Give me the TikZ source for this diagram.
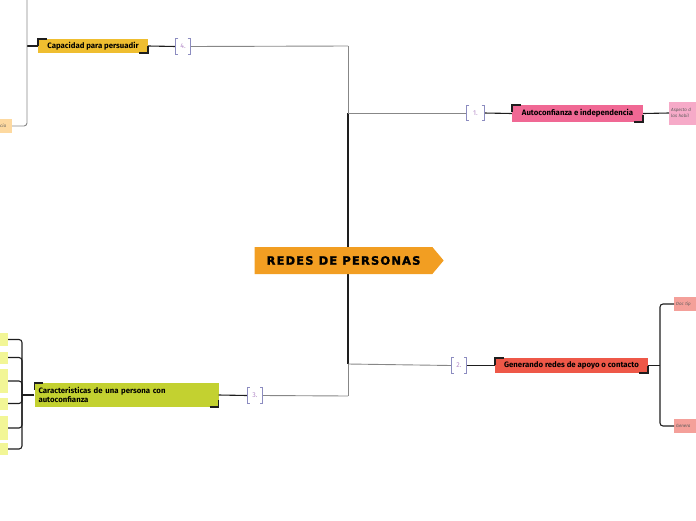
\documentclass[tikz,border=0pt]{standalone}
\usepackage{xcolor}
\usepackage{fontspec}
\setmainfont{Fira Sans}
\newfontfamily\titlefont[LetterSpace=10, FakeBold=1.6]{DejaVu Sans}
\usepackage{tikz}
\usetikzlibrary{shapes.symbols, positioning, calc, backgrounds}
\definecolor{mydark}{RGB}{30,30,30}
\definecolor{mygrey}{RGB}{135,135,135}
\definecolor{rootorange}{RGB}{242,158,34}
\definecolor{persyellow}{RGB}{239,190,48}
\definecolor{autopink}{RGB}{240,104,148}
\definecolor{redesred}{RGB}{238,88,72}
\definecolor{caragreen}{RGB}{195,209,48}
\definecolor{leafpink}{RGB}{246,170,200}
\definecolor{leafsalmon}{RGB}{244,160,154}
\definecolor{leafyellow}{RGB}{242,246,150}
\definecolor{leaforange}{RGB}{253,217,160}
\definecolor{tagbrk}{RGB}{140,140,192}
\definecolor{tagtext}{RGB}{180,140,200}
\definecolor{leaftext}{RGB}{90,90,90}
\tikzset{
  rootsig/.style={signal, signal to=east, signal pointer angle=100,
    fill=rootorange, minimum width=189pt, minimum height=27pt,
    inner sep=0pt, font=\titlefont\fontsize{11.5}{12}\selectfont\bfseries},
  topic/.style={rectangle, inner xsep=4pt, inner ysep=1pt,
    font=\fontsize{7.8}{9}\selectfont\bfseries, text=black},
  numtag/.style={inner sep=0pt, minimum width=15pt, minimum height=15pt,
    font=\fontsize{7}{8}\selectfont, text=tagtext},
  leaf/.style={inner sep=2pt, font=\fontsize{4.5}{6}\selectfont\itshape,
    text=leaftext, align=left},
  corner/.style={line width=1.5pt, color=mydark},
  tagline/.style={line width=0.8pt, color=tagbrk},
  greyline/.style={line width=0.9pt, color=mygrey},
  darkline/.style={line width=1.1pt, color=mydark},
  trunk/.style={line width=2.5pt, color=mydark}
}
\begin{document}
\begin{tikzpicture}[x=1pt, y=-1pt]
  \useasboundingbox (0,0) rectangle (696,520);
  \clip (0,0) rectangle (696,520);

  % centre
  \node[rootsig] (root) at (343.5,260.5) {REDES DE PERSONAS\hspace{8pt}};
  \coordinate (j4) at (348,46);
  \coordinate (j1) at (348,113);
  \coordinate (j2) at (348,364);
  \coordinate (j3) at (348,396);

  % main topics
  \node[topic, fill=autopink, minimum width=131pt, minimum height=17pt] (n1) at (577.5,113.5) {Autoconfianza e independencia};
  \node[topic, fill=redesred, minimum width=153pt, minimum height=15pt] (n2) at (571.5,365.5) {Generando redes de apoyo o contacto};
  \node[topic, fill=caragreen, text width=176pt, align=left, minimum height=24pt] (n3) at (126.5,395) {Caracteristicas de una persona con\\autoconfianza};
  \node[topic, fill=persyellow, minimum width=110pt, minimum height=14pt] (n4) at (93,46) {Capacidad para persuadir};

  % numbers
  \node[numtag, minimum width=17pt] (t1) at (475.5,113) {1.};
  \node[numtag] (t2) at (459,365.5) {2.};
  \node[numtag] (t3) at (255,395.5) {3.};
  \node[numtag, minimum width=14pt] (t4) at (183,46.5) {4.};

  % leaves
  \node[leaf, fill=leafpink, anchor=west, text width=40pt, minimum height=23pt] (p1) at (669,113) {Aspecto d\\las habil};
  \node[leaf, fill=leafsalmon, anchor=west, text width=40pt, minimum height=14pt] (r1) at (674,304) {Doc tip};
  \node[leaf, fill=leafsalmon, anchor=west, text width=40pt, minimum height=14pt] (r2) at (674,426) {Genera};
  \node[leaf, fill=leaforange, anchor=east, minimum width=20pt, minimum height=14pt] (o1) at (12,126) {ncia};
  \foreach \i/\y/\h/\txt in {1/339.5/13/a., 2/357.5/12/:, 3/381/24/{}, 4/403.5/12/:, 5/428/24/{}, 6/449/12/:}
    \node[leaf, fill=leafyellow, anchor=east, minimum width=24pt, minimum height=\h pt, align=right] (g\i) at (8,\y) {\txt};

  % trunk under the centre
  \begin{scope}[on background layer]
    \draw[greyline] (j4) -- (j3);
    \draw[trunk] (j1) -- (j2);
  \end{scope}

  % branches
  \draw[greyline] (j1) -- (t1.west);
  \draw[darkline] (t1.east) -- (n1.west);
  \draw[greyline] (j2) -- (t2.west);
  \draw[darkline] (t2.east) -- (n2.west);
  \draw[greyline] (j3) -- (t3.east);
  \draw[darkline] (t3.west) -- (n3.east);
  \draw[greyline] (j4) -- (t4.east);
  \draw[darkline] (t4.west) -- (n4.east);

  % sub branches
  \draw[darkline] (n1.east) -- (p1.west);
  \coordinate (b2) at (660,365.5);
  \draw[darkline] (n2.east) -- (b2);
  \draw[darkline, rounded corners=3pt] (r1.west) -| (b2) |- (r2.west);
  \coordinate (b3) at (22,395);
  \draw[darkline] (n3.west) -- (b3);
  \foreach \i in {1,...,6}
    \draw[darkline, rounded corners=3pt] (b3) |- (g\i.east);
  \coordinate (b4) at (27,46);
  \draw[darkline] (n4.west) -- (b4);
  \draw[greyline, rounded corners=3pt] (27,-5) |- (o1.east);

  % corner marks
  \foreach \n in {n1,n2,n3,n4} {
    \draw[corner] ([yshift=-7pt]\n.north west) -- (\n.north west) -- ([xshift=9pt]\n.north west);
    \draw[corner] ([xshift=-9pt]\n.south east) -- (\n.south east) -- ([yshift=7pt]\n.south east);
  }
  \foreach \t in {t1,t2,t3,t4} {
    \draw[tagline] ([xshift=2.5pt]\t.north west) -- (\t.north west) -- (\t.south west) -- ([xshift=2.5pt]\t.south west);
    \draw[tagline] ([xshift=-2.5pt]\t.north east) -- (\t.north east) -- (\t.south east) -- ([xshift=-2.5pt]\t.south east);
  }
\end{tikzpicture}
\end{document}
